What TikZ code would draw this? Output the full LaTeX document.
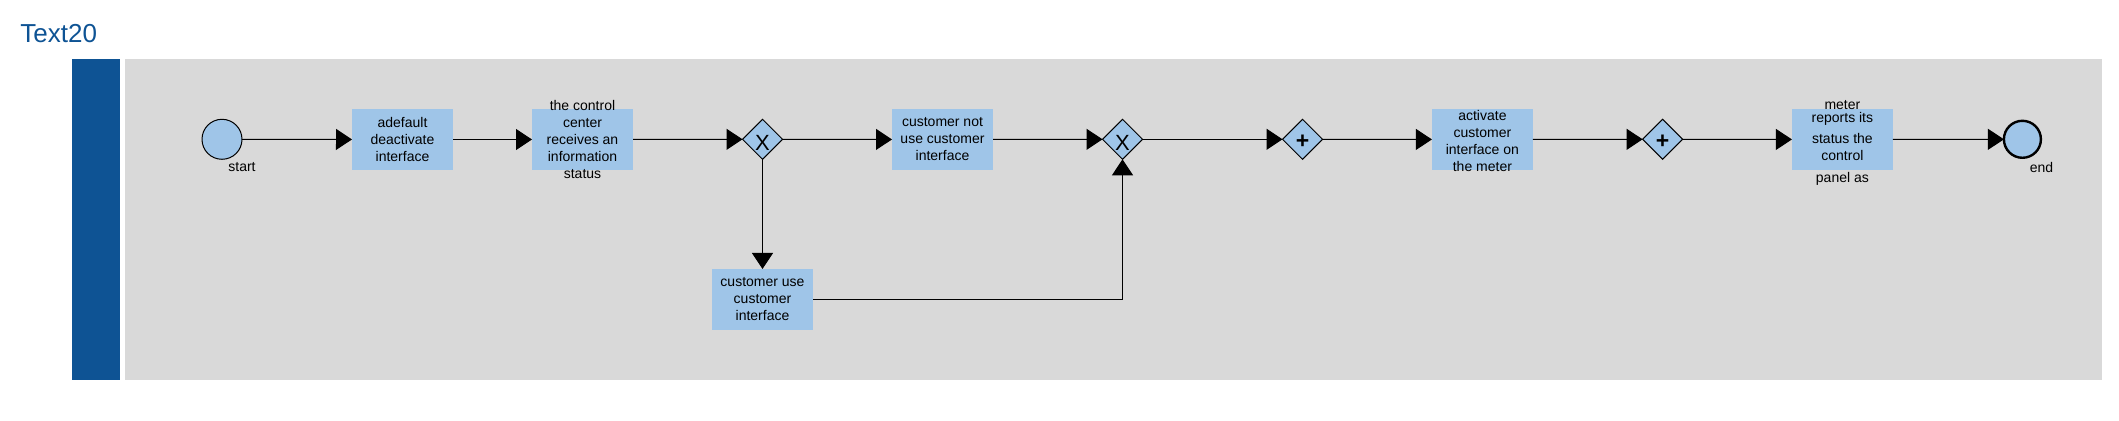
\documentclass[tikz,border=0pt]{standalone}
\usepackage{fontspec}
\setmainfont{Liberation Sans}
\usetikzlibrary{shapes.geometric,arrows.meta}

\tikzset{
  task/.style={rectangle,fill=cfv,minimum width=50.5pt,minimum height=30.5pt,inner sep=0pt,outer sep=0pt},
  tasktext/.style={align=center,inner sep=0pt,font=\fontsize{7}{8.5}\selectfont},
  gateway/.style={diamond,aspect=1,draw=black,line width=0.5pt,fill=cfv,minimum size=20pt,inner sep=0pt,outer sep=0pt},
  gwmark/.style={inner sep=0pt,font=\fontsize{11}{12}\selectfont,yshift=-2pt},
  event/.style={circle,draw=black,fill=cfv,inner sep=0pt,outer sep=0pt},
  evlabel/.style={inner sep=0pt,font=\fontsize{7}{8.5}\selectfont},
  flow/.style={line width=0.5pt,-{Triangle[length=8pt,width=10.5pt]}},
}

\begin{document}
\begin{tikzpicture}[x=0.5pt,y=-0.5pt]
\definecolor{cv}{rgb}{0.0,0.0,0.0}
\definecolor{cfv}{rgb}{0.624,0.773,0.910}
\definecolor{clane}{rgb}{0.055,0.325,0.580}
\definecolor{cpool}{rgb}{0.851,0.851,0.851}
%
\useasboundingbox (0,0) rectangle (2119,421);
\node[anchor=base west,inner sep=0pt,text=clane,font=\fontsize{13}{15}\selectfont] (title) at (20,43) {Text20};
\fill[clane] (71.6,59.5) rectangle (120.2,380);
\fill[cpool] (124.8,59.5) rectangle (2102,380);
%
\node[event,line width=0.5pt,minimum size=20pt,label={[evlabel,label distance=1.3pt,xshift=10pt]below:start}] (vs) at (222,139.3) {};
\node[task,label={[tasktext]center:{adefault\\deactivate\\interface}}] (vt1) at (402.5,139.5) {};
\node[task,label={[tasktext]center:{the control\\center\\receives an\\information\\status}}] (vt2) at (582.5,139.5) {};
\node[gateway,label={[gwmark]center:X}] (vg1) at (762.5,139.3) {};
\node[task,label={[tasktext]center:{customer not\\use customer\\interface}}] (vt3) at (942.5,139.5) {};
\node[task,label={[tasktext]center:{customer use\\customer\\interface}}] (vt4) at (762.5,299.5) {};
\node[gateway,label={[gwmark]center:X}] (vg2) at (1122.5,139.3) {};
\node[gateway,label={[gwmark,font=\fontsize{11.5}{12}\selectfont\bfseries,yshift=1pt]center:+}] (vg3) at (1302.5,139.3) {};
\node[task,label={[tasktext,yshift=-0.6pt]center:{activate\\customer\\interface on\\the meter}}] (vt5) at (1482.4,139.5) {};
\node[gateway,label={[gwmark,font=\fontsize{11.5}{12}\selectfont\bfseries,yshift=1pt]center:+}] (vg4) at (1662.6,139.3) {};
\node[task,label={[tasktext,yshift=-1.5pt]center:{meter\\[-1.85pt]reports its\\[1.85pt]status the\\control\\[2.5pt]panel as}}] (vt6) at (1842.4,139.5) {};
\node[event,line width=1.2pt,minimum size=18.5pt,label={[evlabel,label distance=2.2pt,xshift=9.5pt]below:end}] (ve) at (2022.4,139.3) {};
%
\draw[flow] (vs) -- (vt1);
\draw[flow] (vt1) -- (vt2);
\draw[flow] (vt2) -- (vg1);
\draw[flow] (vg1) -- (vt3);
\draw[flow] (vg1) -- (vt4);
\draw[flow] (vt3) -- (vg2);
\draw[flow] (vt4.east) -| (vg2.south);
\draw[flow] (vg2) -- (vg3);
\draw[flow] (vg3) -- (vt5);
\draw[flow] (vt5) -- (vg4);
\draw[flow] (vg4) -- (vt6);
\draw[flow] (vt6) -- (ve);
%
\end{tikzpicture}
\end{document}
